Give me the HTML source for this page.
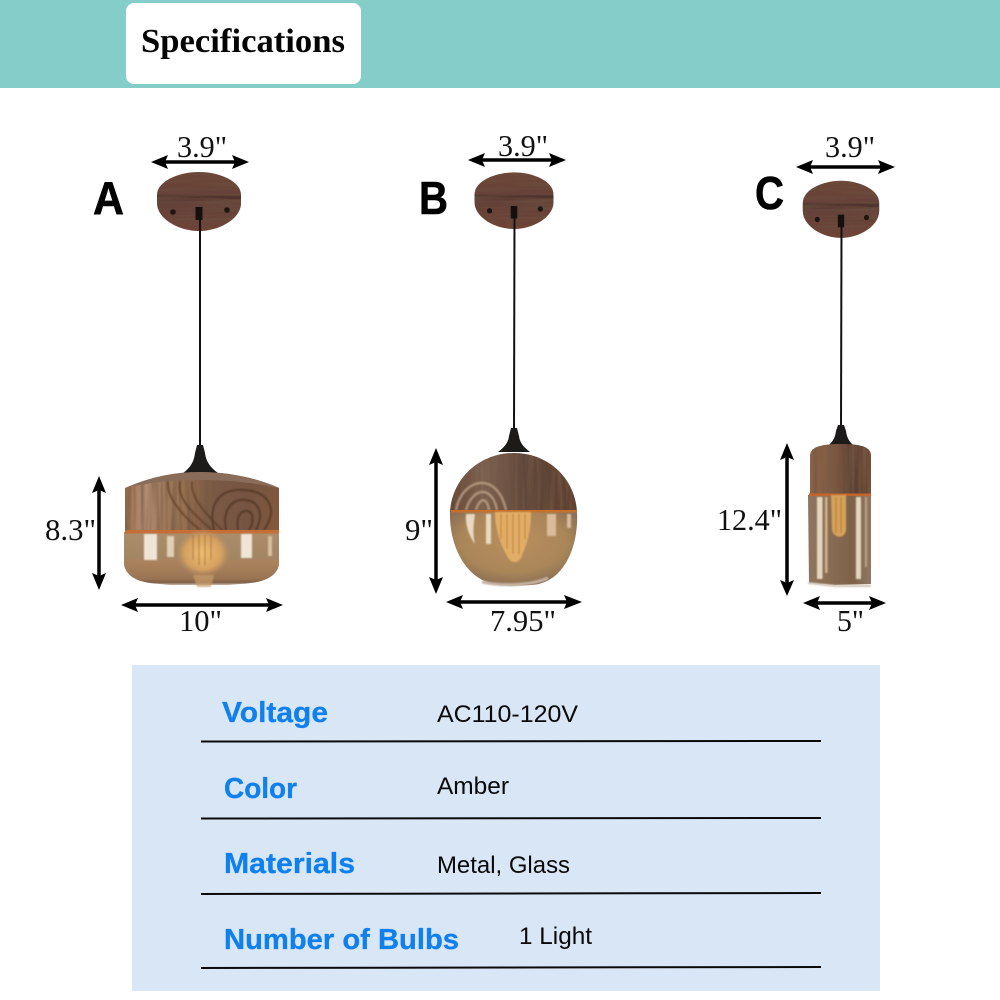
<!DOCTYPE html>
<html><head><meta charset="utf-8"><title>Specifications</title>
<style>html,body{margin:0;padding:0;background:#fff}svg{display:block}
.d{font-family:"Liberation Serif",serif;font-size:31px;fill:#111}
.l{font-family:"Liberation Sans",sans-serif;font-weight:bold;font-size:29px;fill:#0f80ee;stroke:#0f80ee;stroke-width:.3px}
.v{font-family:"Liberation Sans",sans-serif;font-size:24px;fill:#0a0a0a}
.h{font-family:"Liberation Sans",sans-serif;font-weight:bold;font-size:46px;fill:#000;stroke:#000;stroke-width:.6px}
</style></head><body>
<svg width="1000" height="1000" viewBox="0 0 1000 1000" xmlns="http://www.w3.org/2000/svg">
<defs>
<linearGradient id="wa" x1="0" x2="1" y1="0" y2="0"><stop offset="0" stop-color="#96694a"/><stop offset=".12" stop-color="#b58f74"/><stop offset=".22" stop-color="#a27c60"/><stop offset=".38" stop-color="#96704f"/><stop offset=".55" stop-color="#7d5b44"/><stop offset=".8" stop-color="#755443"/><stop offset="1" stop-color="#84593a"/></linearGradient>
<linearGradient id="wb" x1="0" x2="1" y1="0" y2="0"><stop offset="0" stop-color="#644434"/><stop offset=".25" stop-color="#806554"/><stop offset=".6" stop-color="#5f473a"/><stop offset="1" stop-color="#5e4030"/></linearGradient>
<linearGradient id="wc" x1="0" x2="1" y1="0" y2="0"><stop offset="0" stop-color="#8d6449"/><stop offset=".4" stop-color="#7e5a43"/><stop offset=".7" stop-color="#5a3e30"/><stop offset="1" stop-color="#6c4832"/></linearGradient>
<linearGradient id="ga" x1="0" x2="0" y1="0" y2="1"><stop offset="0" stop-color="#ab8d6b"/><stop offset=".5" stop-color="#a48563"/><stop offset=".55" stop-color="#ab845e"/><stop offset=".88" stop-color="#9a7452"/><stop offset=".95" stop-color="#7f6048"/><stop offset="1" stop-color="#c8b8a8"/></linearGradient>
<linearGradient id="gc" x1="0" x2="1" y1="0" y2="0"><stop offset="0" stop-color="#8c7660"/><stop offset=".3" stop-color="#8a6e54"/><stop offset=".7" stop-color="#7d6149"/><stop offset="1" stop-color="#8f7860"/></linearGradient>
<radialGradient id="gb" cx=".5" cy=".4" r=".6"><stop offset="0" stop-color="#b98e60"/><stop offset=".7" stop-color="#a98658"/><stop offset="1" stop-color="#8c6f55"/></radialGradient>
<radialGradient id="bulb" cx=".5" cy=".5" r=".5"><stop offset="0" stop-color="#edbd72"/><stop offset=".7" stop-color="#d5a060"/><stop offset="1" stop-color="#b58d62" stop-opacity="0"/></radialGradient>
<linearGradient id="can" x1="0" x2="0" y1="0" y2="1"><stop offset="0" stop-color="#6d4637"/><stop offset=".38" stop-color="#67423a"/><stop offset=".42" stop-color="#48302a"/><stop offset=".5" stop-color="#63423a"/><stop offset="1" stop-color="#6f4236"/></linearGradient>
<filter id="s"><feGaussianBlur stdDeviation=".7"/></filter>
<filter id="gv" x="0" y="0" width="1" height="1"><feTurbulence type="fractalNoise" baseFrequency=".22 .012" numOctaves="2" seed="4"/><feColorMatrix values="0 0 0 0 .18 0 0 0 0 .1 0 0 0 0 .06 1.8 0 0 0 -.7"/><feComposite in2="SourceAlpha" operator="in" result="n"/><feMerge><feMergeNode in="SourceGraphic"/><feMergeNode in="n"/></feMerge></filter>
<filter id="gh" x="0" y="0" width="1" height="1"><feTurbulence type="fractalNoise" baseFrequency=".012 .3" numOctaves="2" seed="7"/><feColorMatrix values="0 0 0 0 .15 0 0 0 0 .08 0 0 0 0 .05 1.8 0 0 0 -.7"/><feComposite in2="SourceAlpha" operator="in" result="n"/><feMerge><feMergeNode in="SourceGraphic"/><feMergeNode in="n"/></feMerge></filter>
<g id="canopy">
<path filter="url(#gh)" d="M-42 0C-42-14-20-23 0-23S42-14 42 0V8C42 24 20 36 0 36S-42 24-42 8Z" fill="url(#can)"/>
<circle cx="-26" cy="17" r="2.800" fill="#1c1512"/><circle cx="28" cy="15" r="2.800" fill="#1c1512"/>
<rect x="-3.500" y="12" width="7" height="13" fill="#15100e"/>
</g>
</defs>

<rect width="1000" height="88" fill="#85cdc8"/>
<rect x="126" y="3" width="235" height="81" rx="8" fill="#fff"/>
<text x="141" y="52" font-family="'Liberation Serif',serif" font-weight="bold" font-size="34" fill="#050505" textLength="204" lengthAdjust="spacingAndGlyphs">Specifications</text>

<!-- Lamp A -->
<use href="#canopy" x="199" y="195"/>
<line x1="200" y1="218" x2="200" y2="450" stroke="#111" stroke-width="2"/>
<path d="M197 445h6l2 8c1 9 6 15 13 20h-35c7-5 11-11 12-20z" fill="#1d1a1a"/>
<path filter="url(#gv)" d="M125 530V488C150 477 175 472 200 472S255 477 279 488V530Z" fill="url(#wa)"/>
<path d="M125 488C150 477 175 472 200 472S255 477 279 488C250 482 225 480 200 480S150 482 125 488Z" fill="#8a6c5a"/>
<g fill="none" filter="url(#s)" stroke-linecap="round" opacity=".75">
<path d="M168 482C166 500 190 522 200 530M180 482C176 500 198 518 212 530M192 482C190 498 208 516 222 530" stroke="#5e3d28" stroke-width="2"/>
<path d="M214 530C208 505 218 488 245 490S277 512 264 530M226 530C222 510 232 498 246 500S264 515 256 530M238 530C236 518 240 510 247 511S254 522 249 530" stroke="#4e3324" stroke-width="2"/>
</g>
<path d="M124 532H279V565C276 578 262 583 240 584L228 585H170L160 584C140 583 127 578 124 565Z" fill="url(#ga)"/>
<rect x="125" y="530" width="154" height="3.500" fill="#c56f38"/>
<g filter="url(#s)">
<ellipse cx="203" cy="553" rx="27" ry="24" fill="url(#bulb)"/>
<path d="M193 575h21l-3 12h-14z" fill="#c79c68" opacity=".7"/>
<g stroke="#9a5e25" stroke-width="1" opacity=".7"><path d="M193 535v25M199 535v30M205 535v30M211 535v25"/></g>
<rect x="144" y="534" width="13" height="26" fill="#efe5d6"/><rect x="167" y="536" width="7" height="21" fill="#e2d0b4"/><rect x="241" y="534" width="11" height="24" fill="#efe5d6"/>
<rect x="268" y="536" width="4" height="20" fill="#d9bf9e"/>
</g>

<!-- Lamp B -->
<use href="#canopy" transform="translate(514 194.500) scale(.94 .96)"/>
<line x1="514.500" y1="215" x2="514" y2="432" stroke="#111" stroke-width="2"/>
<path d="M511 428h6l2 8c1 8 6 12 11 16h-32c5-4 10-8 11-16z" fill="#1d1a1a"/>
<path filter="url(#gv)" d="M450 512C452 478 480 453 514 453S575 478 577 512Z" fill="url(#wb)"/>
<g fill="none" filter="url(#s)" opacity=".75">
<path d="M456 510C462 478 497 470 506 510M466 510C472 488 492 484 497 510M476 510C480 497 487 497 489 510" stroke="#c0a48a" stroke-width="2.500"/>
</g>
<path d="M450 512H577C579 552 560 585 530 585C517 586 500 586 490 583C465 576 449 545 450 512Z" fill="url(#gb)"/>
<rect x="451" y="510" width="126" height="2.500" fill="#c4702e"/>
<g filter="url(#s)">
<path d="M495 512H531C531 535 525 548 521 558C516 565 510 562 507 556C501 545 495 530 495 512Z" fill="#e2ae66"/>
<g stroke="#a8671f" stroke-width="1" opacity=".7"><path d="M501 514v25M507 514v35M513 514v40M519 514v40M525 514v25"/></g>
<path d="M466 514h9c-2 14-2 22 0 30-6-8-10-20-9-30zM486 514h5v30h-5z" fill="#ead9c2"/>
<path d="M547 514h9v22h-9zM567 514h4v14h-4z" fill="#dcbc98"/>
<path d="M482 582C500 586 530 586 548 578" stroke="#c4b2a0" stroke-width="3" fill="none"/>
</g>

<!-- Lamp C -->
<use href="#canopy" transform="translate(841 203) scale(.91 .97)"/>
<line x1="841.500" y1="226" x2="841" y2="432" stroke="#111" stroke-width="2"/>
<path d="M838 425h6l2 6c1 7 3 10 7 14h-24c4-4 6-7 7-14z" fill="#1d1a1a"/>
<path filter="url(#gv)" d="M810 494V456C810 448 818 444 841 444S871 448 871 456V494Z" fill="url(#wc)"/>
<path d="M808 495H871V584L835 585L809 583Z" fill="url(#gc)"/>
<rect x="809" y="493.500" width="62" height="2.500" fill="#c2662c"/>
<g filter="url(#s)">
<path d="M831 495H846V530C845 539 834 539 832 530Z" fill="#d6a25a"/>
<g stroke="#a8671f" stroke-width="1" opacity=".7"><path d="M836 497v36M841 497v36"/></g>
<rect x="817" y="497" width="5.500" height="82" fill="#e6d6c0"/>
<rect x="825" y="497" width="2.500" height="76" fill="#d2b48e"/>
<rect x="856" y="497" width="5" height="82" fill="#e6d6c0"/>
<rect x="865" y="497" width="2" height="70" fill="#bfa488"/>
<path d="M808 583L835 586H871" stroke="#d0c4b4" stroke-width="2" fill="none"/>
</g>

<!-- Dimension arrows -->
<g fill="none" stroke="#000" stroke-width="3.500">
<line x1="165" y1="162" x2="235" y2="162"/>
<line x1="482" y1="160" x2="552" y2="160"/>
<line x1="810" y1="167" x2="881" y2="167"/>
<line x1="99" y1="490" x2="99" y2="576"/>
<line x1="436" y1="462" x2="436" y2="580"/>
<line x1="787" y1="457" x2="787" y2="583"/>
<line x1="135" y1="605" x2="269" y2="605"/>
<line x1="460" y1="602" x2="568" y2="602"/>
<line x1="817" y1="603" x2="872" y2="603"/>
</g>
<g fill="#000">
<path d="M151 162 168 155 165 162 168 169ZM249 162 232 155 235 162 232 169Z"/>
<path d="M468 160 485 153 482 160 485 167ZM566 160 549 153 552 160 549 167Z"/>
<path d="M796 167 813 160 810 167 813 174ZM895 167 878 160 881 167 878 174Z"/>
<path d="M99 476 92 493 99 490 106 493ZM99 590 92 573 99 576 106 573Z"/>
<path d="M436 448 429 465 436 462 443 465ZM436 594 429 577 436 580 443 577Z"/>
<path d="M787 443 780 460 787 457 794 460ZM787 596 780 580 787 583 794 580Z"/>
<path d="M121 605 138 598 135 605 138 612ZM283 605 266 598 269 605 266 612Z"/>
<path d="M446 602 463 595 460 602 463 609ZM582 602 564 595 567 602 564 609Z"/>
<path d="M803 603 820 596 817 603 820 610ZM886 603 869 596 872 603 869 610Z"/>
</g>

<!-- Dimension labels -->
<text class="d" x="177" y="157" textLength="50" lengthAdjust="spacingAndGlyphs">3.9"</text>
<text class="d" x="498" y="156" textLength="50" lengthAdjust="spacingAndGlyphs">3.9"</text>
<text class="d" x="825" y="157" textLength="50" lengthAdjust="spacingAndGlyphs">3.9"</text>
<text class="d" x="45" y="540" textLength="51" lengthAdjust="spacingAndGlyphs">8.3"</text>
<text class="d" x="405" y="540" textLength="28" lengthAdjust="spacingAndGlyphs">9"</text>
<text class="d" x="717" y="530" textLength="65" lengthAdjust="spacingAndGlyphs">12.4"</text>
<text class="d" x="179" y="631" textLength="43" lengthAdjust="spacingAndGlyphs">10"</text>
<text class="d" x="490" y="631" textLength="66" lengthAdjust="spacingAndGlyphs">7.95"</text>
<text class="d" x="837" y="631" textLength="27" lengthAdjust="spacingAndGlyphs">5"</text>

<text class="h" x="93" y="214" textLength="31" lengthAdjust="spacingAndGlyphs">A</text>
<text class="h" x="419" y="214" textLength="29" lengthAdjust="spacingAndGlyphs">B</text>
<text class="h" x="755" y="209" textLength="29" lengthAdjust="spacingAndGlyphs">C</text>

<!-- Table -->
<rect x="132" y="665" width="748" height="326" fill="#d9e6f6"/>
<g stroke="#0a0a0a" stroke-width="2">
<line x1="201" y1="741.500" x2="821" y2="741"/>
<line x1="201" y1="818.500" x2="821" y2="818"/>
<line x1="201" y1="894" x2="821" y2="893"/>
<line x1="201" y1="968" x2="821" y2="967"/>
</g>
<text class="l" x="222" y="722" textLength="106" lengthAdjust="spacingAndGlyphs">Voltage</text>
<text class="l" x="224" y="798" textLength="73" lengthAdjust="spacingAndGlyphs">Color</text>
<text class="l" x="224" y="873" textLength="131" lengthAdjust="spacingAndGlyphs">Materials</text>
<text class="l" x="224" y="949" textLength="235" lengthAdjust="spacingAndGlyphs">Number of Bulbs</text>
<text class="v" x="437" y="722" textLength="141" lengthAdjust="spacingAndGlyphs">AC110-120V</text>
<text class="v" x="437" y="794" textLength="72" lengthAdjust="spacingAndGlyphs">Amber</text>
<text class="v" x="437" y="873" textLength="133" lengthAdjust="spacingAndGlyphs">Metal, Glass</text>
<text class="v" x="519" y="944" textLength="73" lengthAdjust="spacingAndGlyphs">1 Light</text>
</svg>
</body></html>
